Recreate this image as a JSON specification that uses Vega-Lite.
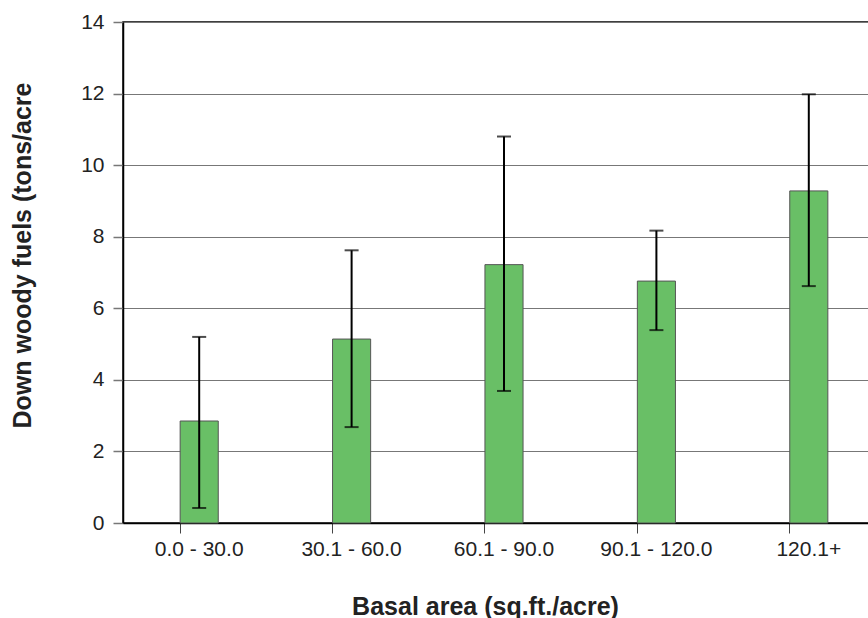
{
  "$schema": "https://vega.github.io/schema/vega-lite/v6.json",
  "autosize": {"type": "none"},
  "padding": {"left": 123, "top": 22, "right": -17, "bottom": 95},
  "width": 762,
  "height": 501,
  "background": "white",
  "config": {
    "font": "Liberation Sans",
    "view": {"stroke": "black", "strokeWidth": 1.5},
    "axis": {
      "labelFont": "Liberation Sans", "labelFontSize": 21, "labelColor": "#222",
      "titleFont": "Liberation Sans", "titleFontSize": 25, "titleFontWeight": "bold", "titleColor": "#222",
      "domainColor": "black", "domainWidth": 1.5
    },
    "axisY": {
      "labelFontSize": 21,
      "labelPadding": 9,
      "tickColor": "#777", "tickSize": 10, "tickWidth": 1.5,
      "grid": true, "gridColor": "#777", "gridWidth": 1.2
    }
  },
  "data": {
    "values": [
      {"range": "0.0 - 30.0", "mean": 2.85, "low": 0.42, "high": 5.2},
      {"range": "30.1 - 60.0", "mean": 5.14, "low": 2.68, "high": 7.62},
      {"range": "60.1 - 90.0", "mean": 7.22, "low": 3.69, "high": 10.8},
      {"range": "90.1 - 120.0", "mean": 6.76, "low": 5.39, "high": 8.17},
      {"range": "120.1+", "mean": 9.28, "low": 6.62, "high": 11.98}
    ]
  },
  "encoding": {
    "x": {
      "field": "range", "type": "nominal", "sort": null,
      "scale": {"paddingInner": 0.75, "paddingOuter": 0.375},
      "axis": {
        "title": "Basal area (sq.ft./acre)",
        "titleX": 362, "titleY": 83, "titleBaseline": "middle",
        "labelAngle": 0, "labelPadding": 5, "labelFontSize": 21,
        "tickColor": "#444", "tickSize": 10, "tickWidth": 1, "bandPosition": 0,
        "grid": false
      }
    }
  },
  "layer": [
    {
      "mark": {"type": "bar", "fill": "#69BF66", "stroke": "#555", "strokeWidth": 1},
      "encoding": {
        "y": {
          "field": "mean", "type": "quantitative",
          "scale": {"domain": [0, 14], "nice": false},
          "axis": {
            "values": [0, 2, 4, 6, 8, 10, 12, 14], "labelFontSize": 21,
            "title": "Down woody fuels (tons/acre",
            "titleX": -101, "titleY": 233, "titleAngle": -90, "titleBaseline": "middle"
          }
        }
      }
    },
    {
      "mark": {"type": "rule", "color": "black", "strokeWidth": 2},
      "encoding": {
        "y": {"field": "low", "type": "quantitative",
          "axis": {
            "values": [0, 2, 4, 6, 8, 10, 12, 14], "labelFontSize": 21,
            "title": "Down woody fuels (tons/acre",
            "titleX": -101, "titleY": 233, "titleAngle": -90, "titleBaseline": "middle"
          }},
        "y2": {"field": "high"}
      }
    },
    {
      "mark": {"type": "tick", "color": "black", "thickness": 2, "size": 14},
      "encoding": {"y": {"field": "low", "type": "quantitative",
          "axis": {
            "values": [0, 2, 4, 6, 8, 10, 12, 14], "labelFontSize": 21,
            "title": "Down woody fuels (tons/acre",
            "titleX": -101, "titleY": 233, "titleAngle": -90, "titleBaseline": "middle"
          }}}
    },
    {
      "mark": {"type": "tick", "color": "black", "thickness": 2, "size": 14},
      "encoding": {"y": {"field": "high", "type": "quantitative",
          "axis": {
            "values": [0, 2, 4, 6, 8, 10, 12, 14], "labelFontSize": 21,
            "title": "Down woody fuels (tons/acre",
            "titleX": -101, "titleY": 233, "titleAngle": -90, "titleBaseline": "middle"
          }}}
    }
  ]
}
